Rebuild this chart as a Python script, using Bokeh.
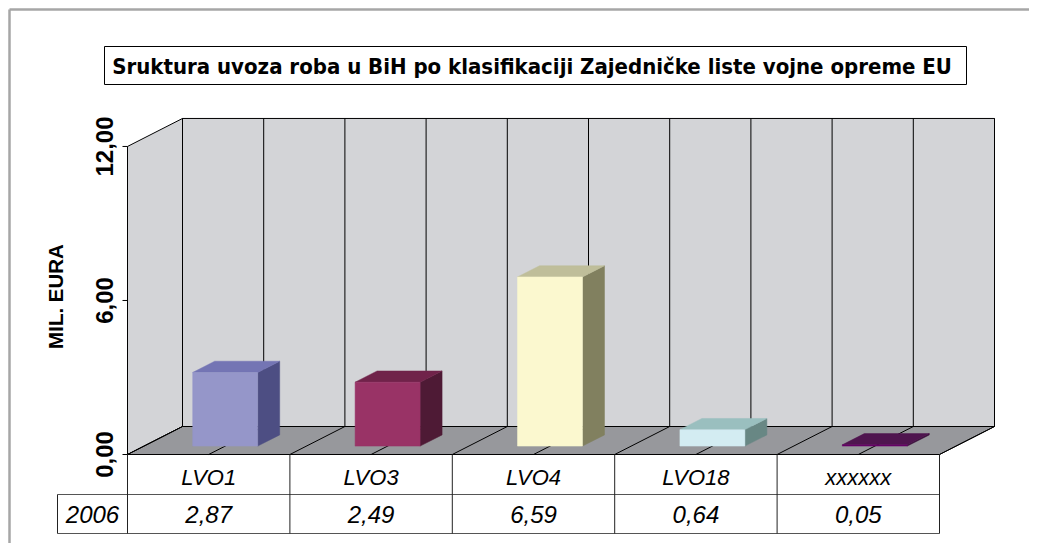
import numpy as np
from bokeh.plotting import figure
from bokeh.models import Range1d
from bokeh.core.properties import value
from bokeh.embed import file_html
from bokeh.resources import INLINE

# ---------------- data ----------------
chart_title = "Sruktura uvoza roba u  BiH po klasifikaciji Zajedničke liste vojne opreme EU"
categories = ["LVO1", "LVO3", "LVO4", "LVO18", "xxxxxx"]
series_name = "2006"
values_2006 = [2.87, 2.49, 6.59, 0.64, 0.05]
value_labels = ["2,87", "2,49", "6,59", "0,64", "0,05"]
y_ticks = [0, 6, 12]
y_tick_labels = ["0,00", "6,00", "12,00"]
y_title = "MIL. EURA"

front_colors = ["#9596C9", "#993366", "#FBF8CF", "#D3ECF2", "#660066"]
top_colors = ["#7475B4", "#70234A", "#BFBE9A", "#9ABFBF", "#4F154F"]
side_colors = ["#4D4E83", "#4E1A35", "#81805F", "#688784", "#3A0F3A"]

# ---------------- layout (canvas pixels) ----------------
W, H = 1029, 543
ORIGIN_PX = 127.0      # front-left corner of the plot floor
ZERO_PY = 454.0        # y pixel of value 0
CAT_PX = 162.4         # pixels per category
VAL_PX = 25.67         # pixels per value unit
DX = 55.0 / CAT_PX     # depth offset in data units
DY = 28.0 / VAL_PX
F0, F1 = 0.30, 0.70    # bar depth span (fraction of depth)
BAR_W = 0.40


def dx_(px):
    return (px - ORIGIN_PX) / CAT_PX


def dy_(py):
    return (ZERO_PY - py) / VAL_PX


p = figure(width=W, height=H, output_backend="svg", toolbar_location=None,
           x_range=Range1d(dx_(0), dx_(W)),
           y_range=Range1d(dy_(H), dy_(0)),
           x_axis_location=None, y_axis_location=None,
           min_border=0, outline_line_color=None)
p.grid.visible = False
p.background_fill_color = "white"
p.border_fill_color = "white"

N = len(categories)
YMAX = max(y_ticks)
WALL = "#D3D4D7"
FLOOR = "#97989C"

# outer frame (top & left visible)
p.line([dx_(9), dx_(W)], [dy_(9), dy_(9)], line_color="#A6A6A6", line_width=2.5)
p.line([dx_(9), dx_(9)], [dy_(9), dy_(H)], line_color="#A6A6A6", line_width=2.5)

# title box
p.quad(left=dx_(104), right=dx_(966), top=dy_(46), bottom=dy_(84),
       fill_color="white", line_color="black", line_width=1)
p.text(x=[dx_(535)], y=[dy_(66)], text=[chart_title],
       text_font=value("'Liberation Sans Narrow', 'DejaVu Sans Condensed', sans-serif"),
       text_font_style="bold", text_font_size="22px",
       text_align="center", text_baseline="middle", text_color="black")

# walls
p.patch([0, 0, DX, DX], [0, YMAX, YMAX + DY, DY], fill_color=WALL,
        line_color="black", line_width=1)
p.quad(left=DX, right=N + DX, bottom=DY, top=YMAX + DY, fill_color=WALL,
       line_color="black", line_width=1)
grid_x = DX + np.arange(0, N + 0.001, 0.5)
p.segment(x0=grid_x, y0=DY, x1=grid_x, y1=YMAX + DY, line_color="black", line_width=1)

# floor
p.patch([0, N, N + DX, DX], [0, 0, DY, DY], fill_color=FLOOR,
        line_color="black", line_width=1)
fx = np.arange(0, N + 0.001, 0.5)
p.segment(x0=fx, y0=0, x1=fx + DX, y1=DY, line_color="black", line_width=1)

# bars
fr_x, fr_y, tp_x, tp_y, sd_x, sd_y = [], [], [], [], [], []
for i, v in enumerate(values_2006):
    x0 = i + 0.5 - BAR_W / 2
    x1 = i + 0.5 + BAR_W / 2
    a0x, a0y = F0 * DX, F0 * DY
    a1x, a1y = F1 * DX, F1 * DY
    fr_x.append([x0 + a0x, x1 + a0x, x1 + a0x, x0 + a0x])
    fr_y.append([a0y, a0y, v + a0y, v + a0y])
    tp_x.append([x0 + a0x, x1 + a0x, x1 + a1x, x0 + a1x])
    tp_y.append([v + a0y, v + a0y, v + a1y, v + a1y])
    sd_x.append([x1 + a0x, x1 + a1x, x1 + a1x, x1 + a0x])
    sd_y.append([a0y, a1y, v + a1y, v + a0y])
p.patches(sd_x, sd_y, fill_color=side_colors, line_color=side_colors, line_width=0.5)
p.patches(tp_x, tp_y, fill_color=top_colors, line_color=top_colors, line_width=0.5)
p.patches(fr_x, fr_y, fill_color=front_colors, line_color=front_colors, line_width=0.5)

# y axis ticks and labels
tick_len = 5 / CAT_PX
p.segment(x0=[-tick_len] * len(y_ticks), y0=y_ticks, x1=[0] * len(y_ticks), y1=y_ticks,
          line_color="black", line_width=1)
p.text(x=[dx_(103.5)] * len(y_ticks), y=y_ticks, text=y_tick_labels, angle=np.pi / 2,
       text_font=value("Liberation Sans"), text_font_style="bold",
       text_font_size="24px", text_align="center", text_baseline="middle",
       text_color="black")
p.text(x=[dx_(55)], y=[dy_(296)], text=[y_title], angle=np.pi / 2,
       text_font=value("Liberation Sans"), text_font_style="bold",
       text_font_size="20.5px", text_align="center", text_baseline="middle",
       text_color="black")

# data table
R1 = 40 / VAL_PX
R2 = 39 / VAL_PX
XL = dx_(57)
p.segment(x0=[XL, XL], y0=[-R1, -R1 - R2], x1=[N, N], y1=[-R1, -R1 - R2],
          line_color="#555555", line_width=1)
vx = list(range(N + 1))
p.segment(x0=vx, y0=[0] * len(vx), x1=vx, y1=[-R1 - R2] * len(vx),
          line_color="#222222", line_width=1)
p.segment(x0=[XL], y0=[-R1], x1=[XL], y1=[-R1 - R2], line_color="#222222", line_width=1)

cx = [i + 0.5 for i in range(N)]
p.text(x=cx, y=[-R1 / 2 - 0.1] * N, text=categories, text_font=value("Liberation Sans"),
       text_font_style="italic", text_font_size="22px", text_align="center",
       text_baseline="middle", text_color="black")
p.text(x=cx, y=[-R1 - R2 / 2] * N, text=value_labels, text_font=value("Liberation Sans"),
       text_font_style="italic", text_font_size="24px", text_align="center",
       text_baseline="middle", text_color="black")
p.text(x=[(XL + 0) / 2], y=[-R1 - R2 / 2], text=[series_name], text_font=value("Liberation Sans"),
       text_font_style="italic", text_font_size="24px", text_align="center",
       text_baseline="middle", text_color="black")

open("out.html", "w").write(file_html(p, INLINE))
